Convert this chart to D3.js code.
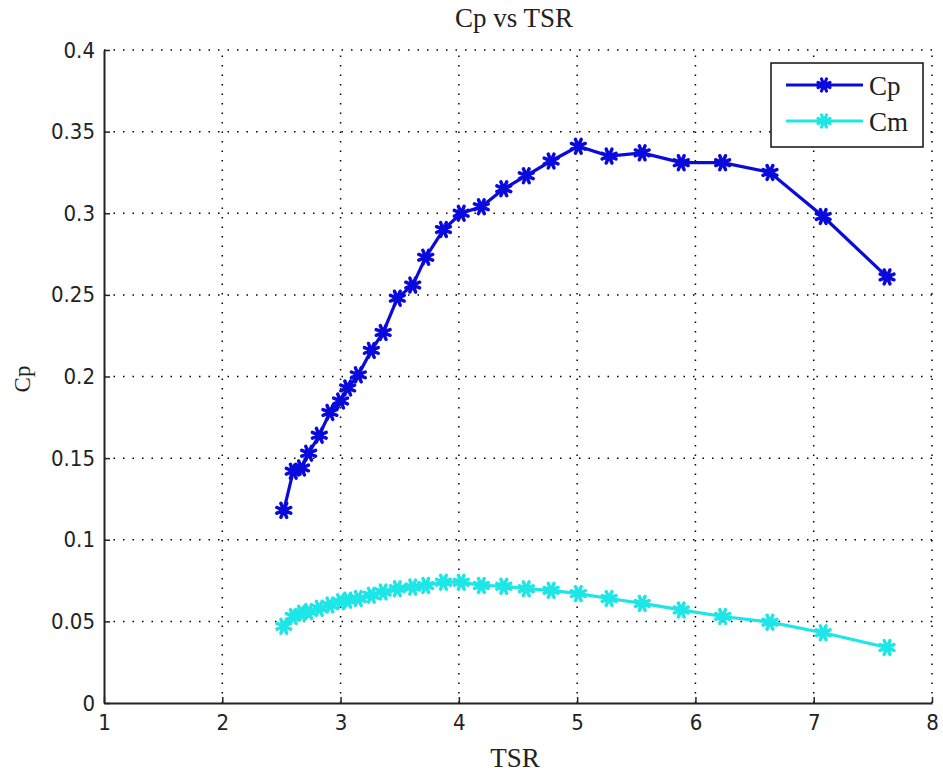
<!DOCTYPE html>
<html>
<head>
<meta charset="utf-8">
<script src="https://cdn.jsdelivr.net/npm/d3@7"></script>
<style>
  body { margin: 0; background: #fff; }
  .tick text { font-family: 'DejaVu Sans'; font-stretch: condensed; font-size: 22px; fill: #222; }
  .lbl { font-family: 'Liberation Serif', 'DejaVu Serif', serif; font-size: 27px; fill: #222; }
</style>
</head>
<body>
<svg width="943" height="776"></svg>
<script>
// TSR values (shared by both series)
const tsr = [2.52, 2.60, 2.67, 2.73, 2.82, 2.91, 3.0, 3.06, 3.15, 3.26, 3.36, 3.48, 3.61, 3.72, 3.87,
             4.02, 4.19, 4.38, 4.57, 4.78, 5.01, 5.27, 5.55, 5.88, 6.23, 6.63, 7.08, 7.62];
const cp  = [0.118, 0.142, 0.144, 0.153, 0.164, 0.178, 0.185, 0.193, 0.201, 0.216, 0.227, 0.248, 0.256, 0.273, 0.290,
             0.300, 0.304, 0.315, 0.323, 0.332, 0.341, 0.335, 0.337, 0.331, 0.331, 0.325, 0.298, 0.261];
const cm  = [0.047, 0.053, 0.055, 0.056, 0.058, 0.060, 0.062, 0.063, 0.064, 0.066, 0.068, 0.070, 0.071, 0.072, 0.074,
             0.074, 0.072, 0.0715, 0.070, 0.069, 0.067, 0.064, 0.061, 0.057, 0.053, 0.0495, 0.043, 0.034];
const xTicks = [1, 2, 3, 4, 5, 6, 7, 8];
const yTicks = [0, 0.05, 0.1, 0.15, 0.2, 0.25, 0.3, 0.35, 0.4];
const series = [
  {name: 'Cp', values: cp, color: '#0a0adc'},
  {name: 'Cm', values: cm, color: '#1fe6e6'}
];

let svg = d3.select('svg');
const m = {left: 104, right: 11, top: 50, bottom: 73};
const w = 943 - m.left - m.right, h = 776 - m.top - m.bottom;

let x = d3.scaleLinear().domain([1, 8]).range([m.left, m.left + w]);
let y = d3.scaleLinear().domain([0, 0.4]).range([m.top + h, m.top]);

// dotted grid
let grid = svg.append('g').attr('stroke', '#000').attr('stroke-width', 1.5)
  .attr('stroke-dasharray', '1.5,8');
grid.selectAll('line.gx').data(xTicks.slice(1)).enter().append('line')
  .attr('x1', d => x(d)).attr('x2', d => x(d)).attr('y1', y(0)).attr('y2', y(0.4));
grid.selectAll('line.gy').data(yTicks.slice(1)).enter().append('line')
  .attr('y1', d => y(d)).attr('y2', d => y(d)).attr('x1', x(1)).attr('x2', x(8));

// axes
let xAxis = svg.append('g').attr('transform', `translate(0,${y(0)})`)
  .call(d3.axisBottom(x).tickValues(xTicks).tickFormat(d3.format('d')).tickSizeInner(-6).tickSizeOuter(0).tickPadding(11));
let yAxis = svg.append('g').attr('transform', `translate(${x(1)},0)`)
  .call(d3.axisLeft(y).tickValues(yTicks).tickFormat(d => d === 0 ? '0' : String(+d.toFixed(2))).tickSizeInner(-6).tickSizeOuter(0).tickPadding(9));
[xAxis, yAxis].forEach(a => {
  a.select('.domain').attr('stroke', '#222').attr('stroke-width', 2);
  a.selectAll('.tick line').attr('stroke', '#222').attr('stroke-width', 1.5);
});

// asterisk-like star marker
function starPath(r) {
  let p = '';
  for (let i = 0; i < 8; i++) {
    const a = i * Math.PI / 4 + Math.PI / 8;
    p += `M0,0L${(r * Math.cos(a)).toFixed(2)},${(r * Math.sin(a)).toFixed(2)}`;
  }
  return p;
}

let line = d3.line().x(d => x(d[0])).y(d => y(d[1]));
series.forEach(s => {
  const pts = tsr.map((t, i) => [t, s.values[i]]);
  let g = svg.append('g');
  g.append('path').datum(pts).attr('d', line)
    .attr('fill', 'none').attr('stroke', s.color).attr('stroke-width', 3.2);
  g.selectAll('path.mk').data(pts).enter().append('path')
    .attr('class', 'mk')
    .attr('transform', d => `translate(${x(d[0])},${y(d[1])})`)
    .attr('d', starPath(7.5))
    .attr('stroke', s.color).attr('stroke-width', 3.5).attr('stroke-linecap', 'round');
  g.selectAll('circle').data(pts).enter().append('circle')
    .attr('cx', d => x(d[0])).attr('cy', d => y(d[1])).attr('r', 4.5).attr('fill', s.color);
});

// legend
let lg = svg.append('g');
lg.append('rect').attr('x', 771).attr('y', 63).attr('width', 152).attr('height', 84)
  .attr('fill', '#fff').attr('stroke', '#111').attr('stroke-width', 1.5);
series.forEach((s, i) => {
  const ly = 85 + i * 36;
  lg.append('line').attr('x1', 786).attr('x2', 863).attr('y1', ly).attr('y2', ly)
    .attr('stroke', s.color).attr('stroke-width', 3.2);
  lg.append('path').attr('transform', `translate(824,${ly})`).attr('d', starPath(6.5))
    .attr('stroke', s.color).attr('stroke-width', 3.2).attr('stroke-linecap', 'round');
  lg.append('circle').attr('cx', 824).attr('cy', ly).attr('r', 3.5).attr('fill', s.color);
  lg.append('text').attr('class', 'lbl').attr('x', 869).attr('y', ly + 10).text(s.name);
});

// titles
svg.append('text').attr('class', 'lbl').attr('x', 514).attr('y', 27).attr('text-anchor', 'middle').text('Cp vs TSR');
svg.append('text').attr('class', 'lbl').attr('x', 515).attr('y', 767).attr('text-anchor', 'middle').text('TSR');
svg.append('text').attr('class', 'lbl').attr('transform', 'translate(30,379) rotate(-90)')
  .attr('text-anchor', 'middle').style('font-size', '23px').text('Cp');
</script>
</body>
</html>
